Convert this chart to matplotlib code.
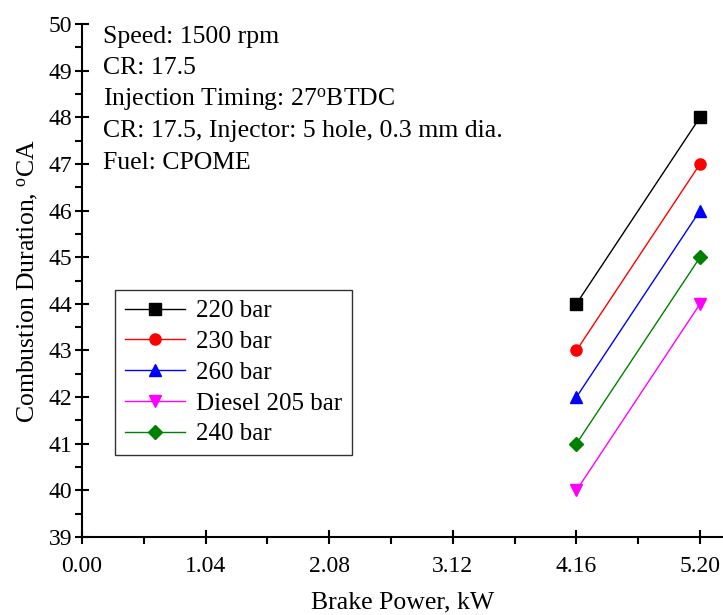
import matplotlib
matplotlib.use("Agg")
import matplotlib.pyplot as plt
from matplotlib.ticker import MultipleLocator, FixedLocator

plt.rcParams['font.family'] = ['Liberation Serif', 'DejaVu Serif']
plt.rcParams['mathtext.fontset'] = 'custom'
plt.rcParams['mathtext.rm'] = 'Liberation Serif'
plt.rcParams['mathtext.it'] = 'Liberation Serif:italic'

# data
power = [4.16, 5.20]
series_names = ['220 bar', '230 bar', '260 bar', 'Diesel 205 bar', '240 bar']
dur_220 = [44, 48]
dur_230 = [43, 47]
dur_260 = [42, 46]
dur_diesel = [40, 44]
dur_240 = [41, 45]
xticks = [0.00, 1.04, 2.08, 3.12, 4.16, 5.20]
notes = ['Speed: 1500 rpm', 'CR: 17.5', r'Injection Timing: 27$^{\mathrm{o}}$BTDC',
         'CR: 17.5, Injector: 5 hole, 0.3 mm dia.', 'Fuel: CPOME']

styles = [('black', 's'), ('red', 'o'), ('blue', '^'), ('magenta', 'v'), ('#008000', 'D')]

fig = plt.figure(figsize=(7.23, 6.15), dpi=100)
ax = fig.add_axes([0.1134, 0.1268, 0.8866, 0.8342])

for vals, name, (c, m) in zip([dur_220, dur_230, dur_260, dur_diesel, dur_240], series_names, styles):
    ms = 7 if m == 'D' else 8
    ax.plot(power, vals, color=c, marker=m, markersize=ms, lw=1.0, label=name)

ax.set_xlim(0, 5.393)
ax.set_ylim(39, 50)
ax.xaxis.set_major_locator(FixedLocator(xticks))
ax.set_xticklabels(['%.2f' % t for t in xticks])
ax.xaxis.set_minor_locator(MultipleLocator(0.52))
ax.yaxis.set_major_locator(MultipleLocator(1))
ax.yaxis.set_minor_locator(MultipleLocator(0.5))

for s in ['top', 'right']:
    ax.spines[s].set_visible(False)
for s in ['left', 'bottom']:
    ax.spines[s].set_linewidth(1.5)

ax.tick_params(which='major', direction='inout', length=10, width=1.5, labelsize=17)
ax.tick_params(axis='x', which='major', pad=9)
ax.tick_params(axis='y', which='major', pad=2)
ax.tick_params(which='minor', direction='out', length=5, width=1.5)

ax.set_xlabel('Brake Power, kW', fontsize=18.5, labelpad=10)
ax.set_ylabel(r'Combustion Duration, $^{\mathrm{o}}$CA', fontsize=18.5, labelpad=6)

line_y = [0.9747, 0.9142, 0.8519, 0.7914, 0.7290]
for t, yy in zip(notes, line_y):
    ax.text(0.033, yy, t, transform=ax.transAxes, fontsize=18.5, va='center', ha='left')

leg = ax.legend(loc='upper left', bbox_to_anchor=(0.0515, 0.4815), borderaxespad=0,
                fontsize=18, frameon=True, fancybox=False, edgecolor='black',
                handlelength=2.4, handletextpad=0.45, labelspacing=0.33,
                borderpad=0.4)
leg.get_frame().set_linewidth(1.0)

fig.savefig('out.png', dpi=100)
